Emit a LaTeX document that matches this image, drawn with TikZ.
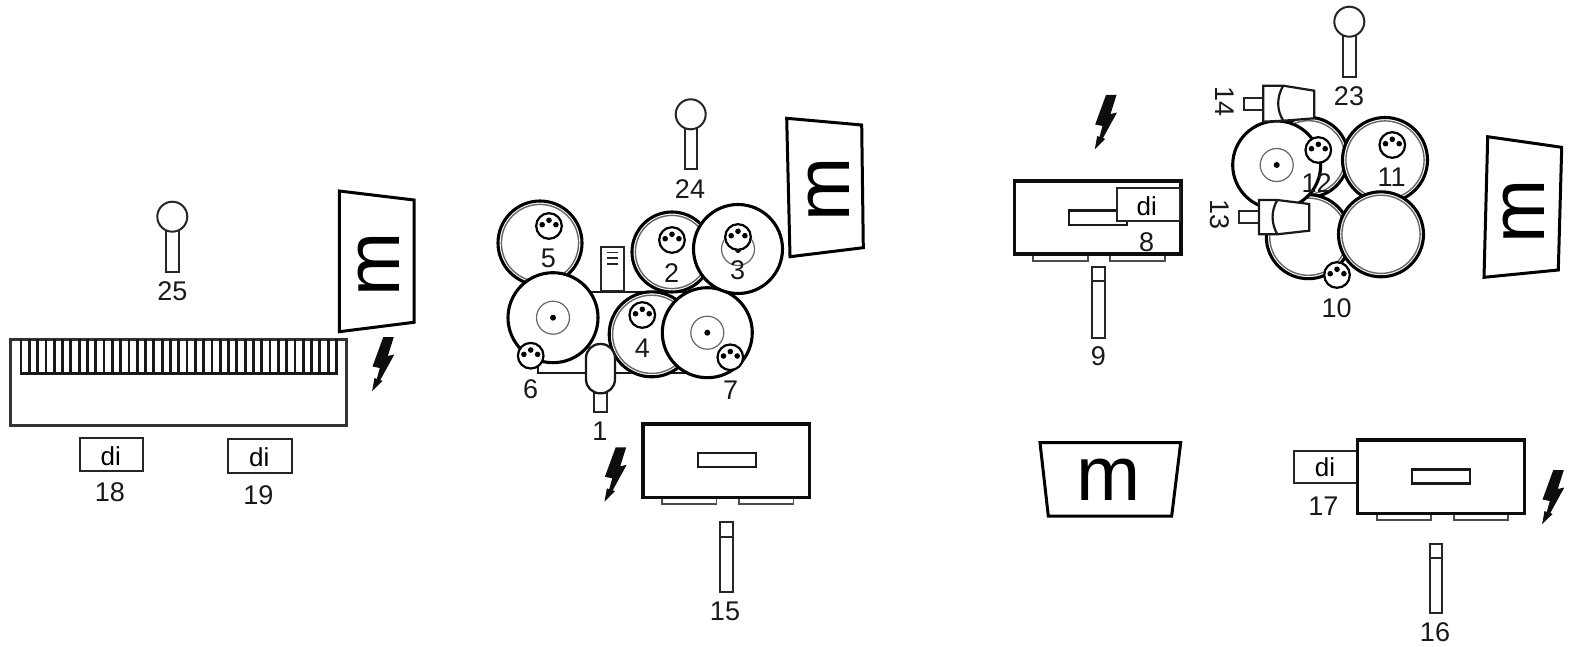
\documentclass[tikz,border=0pt]{standalone}
\usepackage{fontspec}
\setmainfont{Liberation Sans}
\tikzset{
  lab/.style={inner sep=0pt,font=\fontsize{27}{30}\selectfont,text=black!90},
  ditext/.style={inner sep=0pt,font=\fontsize{26}{30}\selectfont},
  mtext/.style={inner sep=0pt,font=\fontsize{77}{80}\selectfont},
  heavy/.style={draw=black!95,line width=3.4pt,fill=white,line join=miter},
  medium/.style={draw=black!90,line width=2.4pt,fill=white},
  foot/.style={draw=black!70,line width=1.7pt,fill=white},
  slim/.style={draw=black!85,line width=2pt,fill=white},
  drumline/.style={draw=black,line width=3.1pt,fill=white},
  ringline/.style={draw=black!60,line width=1.4pt},
  hubline/.style={draw=black!60,line width=1.2pt},
  monitor/.style={draw=black,line width=3pt,fill=white,line join=miter},
}
\newcommand{\ringdrum}[3]{%
  \path[drumline] (#1,#2) circle[radius=#3pt];
  \path[ringline] (#1,#2) circle[radius=#3pt-3.4pt];}
\newcommand{\bigdrum}[2]{%
  \path[drumline] (#1,#2) circle[radius=45pt];
  \path[hubline] (#1,#2) circle[radius=16.5pt];
  \fill[black] (#1,#2) circle[radius=3pt];}
\newcommand{\plugc}[3][white]{%
  \begin{scope}[shift={(#2,#3)}]
  \path[draw=black,line width=2.2pt,fill=#1] (0,0) circle[radius=12.8pt];
  \fill[black] (-6.8,-1.3) circle[radius=2.8pt] (0,-5.7) circle[radius=2.8pt] (6.9,-1.3) circle[radius=2.8pt];
  \end{scope}}
\newcommand{\boltsym}[2]{%
  \fill[black!95,shift={(#1,#2)}] (0,0) -- (10.5,0) -- (4.5,19) -- (11,17.5) -- (-3,43) -- (-0.8,44) -- (-11.2,54.3) -- (-8.8,41) -- (-6.5,42) -- (-3.5,31) -- (-10.8,29.5) -- cycle;}
\newcommand{\micsym}[2]{%
  \path[slim] (#1-6.2,#2+12) rectangle (#1+6.2,#2+55);
  \path[slim] (#1,#2) circle[radius=15pt];}
\newcommand{\standsym}[4]{%
  \path[slim] (#1,#2) rectangle (#1+12.6,#4);
  \draw[black!85,line width=2pt] (#1,#3) -- ++(12.6,0);}
\newcommand{\ampsym}[2]{%
  \path[foot] (#1+19,#2+72) rectangle ++(54.5,8.2);
  \path[foot] (#1+96,#2+72) rectangle ++(54.5,8.2);
  \path[heavy] (#1,#2) rectangle ++(166.5,73.2);}
\begin{document}
\begin{tikzpicture}[x=1pt,y=-1pt]
\useasboundingbox (0,0) rectangle (1575,647);
\fill[white] (0,0) rectangle (1575,647);

%% ---------- left group
\micsym{172.3}{216.7}
\node[lab] (n25) at (172.3,291) {25};
\path[monitor] (339.3,191) -- (414,200) -- (414,322.3) -- (339.3,331.7) -- cycle;
\node[mtext,rotate=90] (ml) at (378.3,264.3) {m};
\boltsym{383.3}{337}
\path[draw=black!80,line width=3pt,fill=white] (10.5,339.3) rectangle (346.7,425);
\foreach \i in {0,...,38}{
  \draw[black!90,line width=2.8pt] ({21+\i*8.3},339.3) -- ({21+\i*8.3},373);
}
\draw[black!90,line width=3pt] (19.6,373) -- (337.8,373);
\path[slim] (80,438.3) rectangle (143.3,471);
\node[ditext] (d18) at (110.7,456) {di};
\node[lab] (n18) at (110,492.7) {18};
\path[slim] (228.3,439.3) rectangle (292.3,472.7);
\node[ditext] (d19) at (259.3,457.3) {di};
\node[lab] (n19) at (258.3,495) {19};

%% ---------- centre group
\micsym{690.7}{114.3}
\node[lab] (n24) at (690,189) {24};
\path[monitor] (786.7,118.3) -- (861.7,125) -- (863.3,247.7) -- (790,256.7) -- cycle;
\node[mtext,rotate=90] (mc) at (828.3,189.3) {m};
\path[draw=black!90,line width=2.8pt,fill=white] (538,292) rectangle (685,373);
\path[draw=black!85,line width=2.2pt,fill=white] (600.7,247.3) rectangle (624,291);
\draw[black!85,line width=1.6pt] (606.7,252.7) -- (618,252.7) (606.7,258.3) -- (618,258.3) (606.7,264) -- (618,264);
\ringdrum{540}{243}{42}
\ringdrum{672}{252}{40}
\ringdrum{651.7}{334.3}{42.5}
\bigdrum{553}{317.7}
\bigdrum{707.3}{332.7}
\path[drumline] (738,249) circle[radius=44.5pt];
\path[hubline] (738,249) circle[radius=16.5pt];
\fill[black] (738,250) circle[radius=3pt];
\plugc{549}{226}
\plugc{672}{240}
\plugc{738}{237}
\plugc{642.3}{315}
\plugc{530.7}{355.7}
\plugc{730.3}{357.3}
\path[slim] (594.3,393.3) rectangle (606.7,412.3);
\path[draw=black!90,line width=2.3pt,fill=white,rounded corners=14pt] (586,344) rectangle (615,393.3);
\node[lab] (n5) at (548.3,258.3) {5};
\node[lab] (n2) at (671.7,273.3) {2};
\node[lab] (n3) at (737.7,270) {3};
\node[lab] (n4) at (642.3,348.3) {4};
\node[lab] (n6) at (530.7,389) {6};
\node[lab] (n7) at (730.7,390.7) {7};
\node[lab] (n1) at (600,431.7) {1};
\boltsym{615.7}{447.3}
\ampsym{643}{424}
\path[medium] (698,453) rectangle (756,467);
\standsym{720}{522.3}{536.7}{591.7}
\node[lab] (n15) at (725,611) {15};

%% ---------- right upper group
\boltsym{1106}{95}
\ampsym{1014.3}{181}
\path[medium] (1069,210.7) rectangle (1126.7,225);
\path[draw=black!85,line width=2pt,fill=white] (1116.7,188.3) rectangle (1180,220.7);
\node[ditext] (d8) at (1146.7,206.7) {di};
\node[lab] (n8) at (1146.7,242.7) {8};
\standsym{1092.3}{267.3}{281}{337.7}
\node[lab] (n9) at (1098.3,356.7) {9};

\micsym{1349.3}{21.7}
\node[lab] (n23) at (1349,96) {23};
\ringdrum{1308.3}{157.3}{40}
\ringdrum{1385}{160}{42.5}
\ringdrum{1308.3}{236.7}{42}
\ringdrum{1381}{234.3}{42.5}
\path[drumline] (1276.7,165) circle[radius=44pt];
\path[hubline] (1276.7,165) circle[radius=16.5pt];
\fill[black] (1276.7,165) circle[radius=3pt];
\plugc{1318.3}{150}
\plugc{1392.3}{145}
\plugc{1337}{275}
% upper clamp
\path[slim] (1244.3,97.7) rectangle (1263.3,110);
\path[draw=black!90,line width=2.2pt,fill=white,line join=miter] (1263.3,85.7) -- (1283.3,85.7) -- (1314.3,90.7) -- (1314.3,118.3) -- (1283.3,120.7) -- (1263.3,121.7) -- cycle;
\draw[black!90,line width=2.2pt] (1283.3,85.7) .. controls (1276.5,97) and (1276.5,110) .. (1283.3,120.7);
% lower clamp
\path[slim] (1239.3,211) rectangle (1259,222.7);
\path[draw=black!90,line width=2.2pt,fill=white,line join=miter] (1259,200) -- (1277.3,200) -- (1309.3,204) -- (1309.3,230.7) -- (1277.3,234.3) -- (1259,234.3) -- cycle;
\draw[black!90,line width=2.2pt] (1277.3,200) .. controls (1271,211) and (1271,223) .. (1277.3,234.3);
\node[lab] (n11) at (1391.7,177.3) {11};
\node[lab] (n12) at (1316.7,183.3) {12};
\node[lab] (n10) at (1336.7,308.3) {10};
\node[lab,rotate=-90] (n14) at (1225,101.7) {14};
\node[lab,rotate=-90] (n13) at (1219.3,215) {13};
\path[monitor] (1487.7,136.7) -- (1561.7,147.3) -- (1558.3,270) -- (1484,277.3) -- cycle;
\node[mtext,rotate=90] (mr) at (1524,211) {m};

%% ---------- right lower group
\path[monitor] (1040,442.7) -- (1180.7,442.7) -- (1171.7,516) -- (1048.3,516) -- cycle;
\node[mtext] (mb) at (1108.3,480) {m};
\path[slim] (1294,450.7) rectangle (1357.7,483.3);
\node[ditext] (d17) at (1325,467.3) {di};
\node[lab] (n17) at (1323.3,506) {17};
\ampsym{1357.7}{440}
\path[medium] (1411.7,469.3) rectangle (1470,483.3);
\standsym{1429.5}{544}{558.3}{613.3}
\node[lab] (n16) at (1435,632.7) {16};
\boltsym{1553.3}{470}
\end{tikzpicture}
\end{document}
